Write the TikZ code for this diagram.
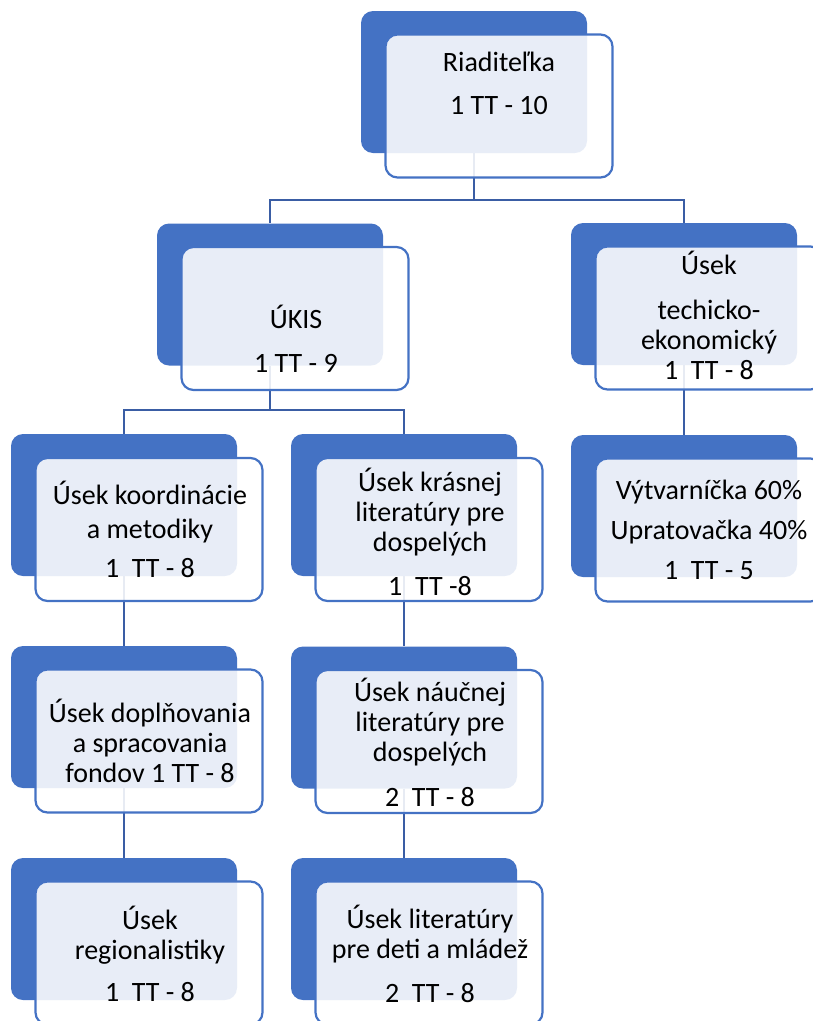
\documentclass[tikz,border=0pt]{standalone}
\usepackage{fontspec}
\setmainfont{Carlito}
\definecolor{accent}{HTML}{4472C4}
\definecolor{linkblue}{HTML}{3A5DA4}

\begin{document}
\begin{tikzpicture}[x=1pt,y=-1pt]
\tikzset{
  back/.style={rectangle, rounded corners=12pt, fill=accent, minimum width=226pt, minimum height=142pt, inner sep=0pt},
  front/.style={rectangle, rounded corners=12pt, draw=accent, line width=2.2pt, fill=white, fill opacity=0.88, minimum width=227pt, minimum height=143pt, inner sep=0pt},
  txt/.style={align=center, inner sep=0pt, font=\fontsize{28}{34}\selectfont},
  tight/.style={font=\fontsize{28}{30}\selectfont},
  link/.style={draw=linkblue, line width=2.8pt}
}
\useasboundingbox (0,0) rectangle (812,1021);

% Back boxes
\node[back] (dir) at (474,82) {};
\node[back] (ukis) at (270,294.5) {};
\node[back] (tech) at (684,294) {};
\node[back] (koord) at (124,505) {};
\node[back] (kras) at (404,505) {};
\node[back] (vyt) at (684,506) {};
\node[back] (dopl) at (124,717) {};
\node[back] (nauc) at (404,717.5) {};
\node[back] (reg) at (124,929) {};
\node[back] (mlad) at (404,929) {};

% Connectors
\coordinate (bus1) at (474,200);
\coordinate (bus2) at (270,410);
\draw[link] (dir.south) -- (bus1) -| (ukis.north);
\draw[link] (bus1) -| (tech.north);
\draw[link] (ukis.south) -- (bus2) -| (koord.north);
\draw[link] (bus2) -| (kras.north);
\draw[link] (tech.south) -- (vyt.north);
\draw[link] (koord.south) -- (dopl.north);
\draw[link] (dopl.south) -- (reg.north);
\draw[link] (kras.south) -- (nauc.north);
\draw[link] (nauc.south) -- (mlad.north);

% Front boxes
\node[front] (dir-f) at (499,106) {};
\node[front] (ukis-f) at (295,318.5) {};
\node[front] (tech-f) at (709,318) {};
\node[front] (koord-f) at (149,529.5) {};
\node[front] (kras-f) at (429,529.5) {};
\node[front] (vyt-f) at (709,530) {};
\node[front] (dopl-f) at (149,741) {};
\node[front] (nauc-f) at (429,741.5) {};
\node[front] (reg-f) at (149,953) {};
\node[front] (mlad-f) at (429,953) {};

% Texts
\node[txt] (dir-t) at (499,83) {Riaditeľka\\[9pt]1 TT - 10};
\node[txt] (ukis-t) at (296,338.5) {ÚKIS\\[10pt]1 TT - 9};
\node[txt, tight] (tech-t) at (709,315) {Úsek\\[15pt]techicko-\\ekonomický\\1~~TT - 8};
\node[txt] (koord-t) at (150,529) {Úsek koordinácie\\a metodiky\\[5pt]1~~TT - 8};
\node[txt, tight] (kras-t) at (430,531.5) {Úsek krásnej\\literatúry pre\\dospelých\\[14pt]1~~TT -8};
\node[txt, tight] (vyt-t) at (709,530) {Výtvarníčka 60\%\\[10pt]Upratovačka 40\%\\[10pt]1~~TT - 5};
\node[txt, tight] (dopl-t) at (150,741) {Úsek doplňovania\\a spracovania\\fondov 1 TT - 8};
\node[txt, tight] (nauc-t) at (430,742.5) {Úsek náučnej\\literatúry pre\\dospelých\\[15pt]2~~TT - 8};
\node[txt, tight] (reg-t) at (150,954) {Úsek\\regionalistiky\\[12pt]1~~TT - 8};
\node[txt, tight] (mlad-t) at (430,954) {Úsek literatúry\\pre deti a mládež\\[14pt]2~~TT - 8};

\end{tikzpicture}
\end{document}
